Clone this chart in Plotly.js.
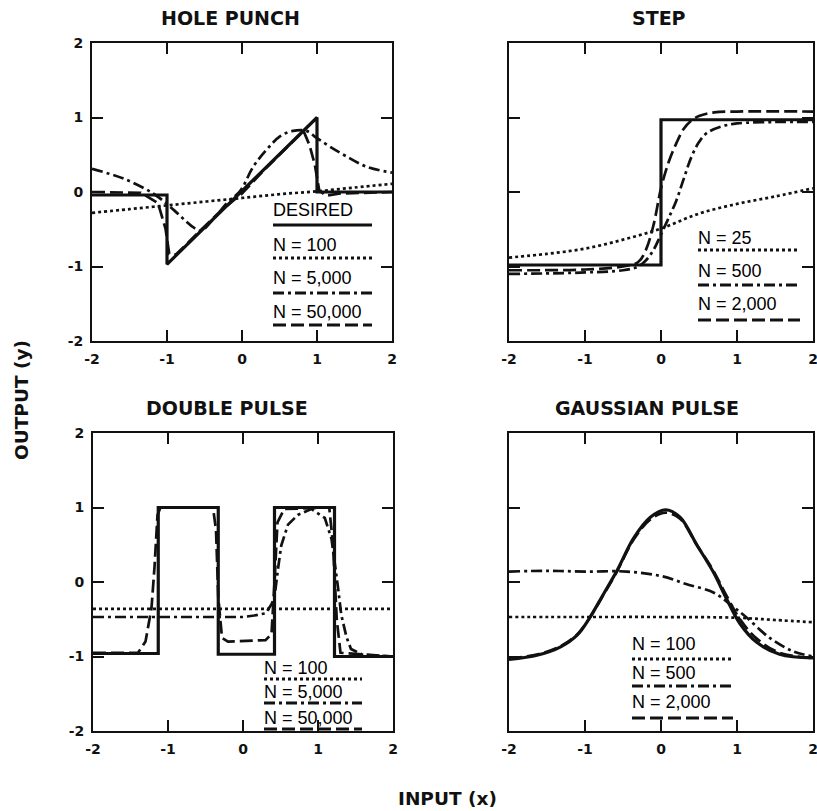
<!DOCTYPE html>
<html>
<head>
<meta charset="utf-8">
<script src="https://cdn.plot.ly/plotly-3.0.1.min.js"></script>
<style>html,body{margin:0;padding:0;background:#fff;}#chart{width:817px;height:811px;}</style>
</head>
<body>
<div id="chart"></div>
<script>
// ---------- tick labels ----------
const tickVals = [-2, -1, 0, 1, 2];
const tickText = ['-2', '-1', '0', '1', '2'];

// ---------- HOLE PUNCH ----------
const holeDesiredX = [-2, -1, -1, 1, 1, 2];
const holeDesiredY = [-0.04, -0.04, -0.97, 1.0, 0.0, 0.0];
const hole100X = [-2, -1.5, -1, -0.5, 0, 0.5, 1, 1.5, 2];
const hole100Y = [-0.28, -0.23, -0.18, -0.13, -0.08, -0.03, 0.01, 0.06, 0.11];
const hole5kX = [-2, -1.58, -1.17, -0.9, -0.68, -0.55, -0.38, -0.2, -0.02, 0.15, 0.33, 0.51, 0.68, 0.86, 0.99, 1.17, 1.39, 1.66, 2];
const hole5kY = [0.31, 0.18, -0.03, -0.25, -0.45, -0.52, -0.36, -0.15, 0.02, 0.34, 0.57, 0.75, 0.82, 0.82, 0.73, 0.61, 0.48, 0.34, 0.26];
const hole50kX = [-2, -1.35, -1.12, -1.02, -0.97, -0.88, -0.6, -0.3, 0, 0.3, 0.6, 0.82, 0.9, 0.97, 1.03, 1.12, 1.31, 2];
const hole50kY = [0, -0.01, -0.15, -0.49, -0.83, -0.84, -0.56, -0.27, -0.02, 0.3, 0.6, 0.82, 0.63, 0.37, 0.02, -0.05, -0.02, 0];

// ---------- STEP ----------
const stepDesiredX = [-2, 0, 0, 2];
const stepDesiredY = [-0.98, -0.98, 0.97, 0.97];
const step25X = [-2, -1.5, -1, -0.5, 0, 0.5, 1, 1.5, 2];
const step25Y = [-0.88, -0.83, -0.76, -0.64, -0.49, -0.29, -0.16, -0.06, 0.05];
const step500X = [-2, -1, -0.5, -0.3, -0.2, -0.1, 0, 0.1, 0.2, 0.3, 0.4, 0.5, 0.6, 0.8, 1, 1.5, 2];
const step500Y = [-1.1, -1.08, -1.05, -1.0, -0.92, -0.78, -0.57, -0.35, -0.12, 0.18, 0.47, 0.67, 0.79, 0.88, 0.92, 0.94, 0.94];
const step2kX = [-2, -1, -0.5, -0.3, -0.2, -0.1, 0, 0.1, 0.2, 0.3, 0.4, 0.5, 0.7, 1, 2];
const step2kY = [-1.05, -1.04, -1.0, -0.94, -0.78, -0.45, 0.05, 0.4, 0.65, 0.85, 0.96, 1.02, 1.07, 1.08, 1.08];

// ---------- DOUBLE PULSE ----------
const dpDesiredX = [-2, -1.13, -1.13, -0.33, -0.33, 0.42, 0.42, 1.22, 1.22, 2];
const dpDesiredY = [-0.96, -0.96, 1, 1, -0.97, -0.97, 1, 1, -1, -1];
const dp100X = [-2, -1, 0, 1, 2];
const dp100Y = [-0.36, -0.36, -0.36, -0.36, -0.36];
const dp5kX = [-2, -1, 0, 0.15, 0.3, 0.38, 0.42, 0.47, 0.51, 0.6, 0.73, 0.91, 1.09, 1.18, 1.22, 1.27, 1.31, 1.38, 1.44, 1.6, 2];
const dp5kY = [-0.47, -0.47, -0.47, -0.45, -0.42, -0.3, -0.2, 0.2, 0.49, 0.77, 0.9, 0.98, 0.86, 0.58, 0.3, -0.1, -0.44, -0.74, -0.9, -0.98, -1.0];
const dp50kX = [-2, -1.4, -1.3, -1.22, -1.18, -1.14, -1.1, -0.4, -0.36, -0.33, -0.28, -0.2, 0.3, 0.38, 0.42, 0.46, 0.55, 1.15, 1.2, 1.25, 1.3, 2];
const dp50kY = [-0.95, -0.95, -0.8, -0.35, 0.2, 0.9, 1.0, 1.0, 0.7, -0.2, -0.75, -0.8, -0.78, -0.7, 0.0, 0.8, 0.98, 1.0, 0.5, -0.5, -0.95, -1.0];

// ---------- GAUSSIAN PULSE ----------
const gaussDesiredX = [-2, -1.62, -1.32, -1.1, -0.95, -0.75, -0.58, -0.36, -0.14, 0.06, 0.25, 0.47, 0.69, 0.86, 1.04, 1.26, 1.56, 2];
const gaussDesiredY = [-1.04, -0.98, -0.87, -0.71, -0.5, -0.15, 0.15, 0.59, 0.87, 0.97, 0.87, 0.5, 0.13, -0.22, -0.56, -0.81, -0.97, -1.02];
const gauss100X = [-2, -1, 0, 1, 1.5, 2];
const gauss100Y = [-0.47, -0.47, -0.47, -0.48, -0.51, -0.54];
const gauss500X = [-2, -1.5, -1, -0.45, 0, 0.34, 0.69, 0.91, 1.13, 1.43, 1.74, 2];
const gauss500Y = [0.14, 0.15, 0.14, 0.14, 0.08, -0.03, -0.14, -0.3, -0.48, -0.75, -0.93, -1.0];
const gauss2kX = [-2, -1.62, -1.32, -1.1, -0.95, -0.75, -0.58, -0.36, -0.14, 0.06, 0.25, 0.47, 0.69, 0.86, 1.04, 1.26, 1.56, 2];
const gauss2kY = [-1.03, -0.97, -0.86, -0.7, -0.5, -0.16, 0.14, 0.57, 0.84, 0.93, 0.85, 0.5, 0.15, -0.18, -0.5, -0.76, -0.95, -1.02];

// ---------- legend labels ----------
const holeLabels = ['DESIRED', 'N = 100', 'N = 5,000', 'N = 50,000'];
const stepLabels = ['N = 25', 'N = 500', 'N = 2,000'];
const dpLabels = ['N = 100', 'N = 5,000', 'N = 50,000'];
const gaussLabels = ['N = 100', 'N = 500', 'N = 2,000'];

// ---------- styles ----------
const INK = '#111';
const STY = {
  desired: {color: INK, width: 3.2, dash: 'solid'},
  dot: {color: INK, width: 2.7, dash: '3px,3px'},
  dashdot: {color: INK, width: 2.7, dash: '11px,4px,3px,4px'},
  longdash: {color: INK, width: 2.7, dash: '13px,5px'}
};

const W = 817, H = 811;
const PX = v => v / W;
const PY = v => 1 - v / H;

function tr(x, y, sty, xa, ya, smooth) {
  return {
    x: x, y: y, xaxis: xa, yaxis: ya, type: 'scatter', mode: 'lines',
    line: Object.assign({}, STY[sty], {shape: smooth ? 'spline' : 'linear', smoothing: 1}),
    hoverinfo: 'skip', showlegend: false
  };
}

const traces = [
  tr(hole100X, hole100Y, 'dot', 'x', 'y', true),
  tr(hole5kX, hole5kY, 'dashdot', 'x', 'y', true),
  tr(hole50kX, hole50kY, 'longdash', 'x', 'y', false),
  tr(holeDesiredX, holeDesiredY, 'desired', 'x', 'y', false),

  tr(step25X, step25Y, 'dot', 'x2', 'y2', true),
  tr(step500X, step500Y, 'dashdot', 'x2', 'y2', true),
  tr(step2kX, step2kY, 'longdash', 'x2', 'y2', true),
  tr(stepDesiredX, stepDesiredY, 'desired', 'x2', 'y2', false),

  tr(dp100X, dp100Y, 'dot', 'x3', 'y3', false),
  tr(dp5kX, dp5kY, 'dashdot', 'x3', 'y3', false),
  tr(dp50kX, dp50kY, 'longdash', 'x3', 'y3', false),
  tr(dpDesiredX, dpDesiredY, 'desired', 'x3', 'y3', false),

  tr(gauss100X, gauss100Y, 'dot', 'x4', 'y4', true),
  tr(gauss500X, gauss500Y, 'dashdot', 'x4', 'y4', true),
  tr(gauss2kX, gauss2kY, 'longdash', 'x4', 'y4', true),
  tr(gaussDesiredX, gaussDesiredY, 'desired', 'x4', 'y4', true)
];

const tickFont = {family: 'DejaVu Sans', size: 14, color: INK, weight: 'bold'};
function axis(dom, anchor, showLabels) {
  return {
    domain: dom, anchor: anchor, range: [-2, 2], tickmode: 'array',
    tickvals: tickVals, ticktext: tickText, showticklabels: showLabels,
    ticks: 'inside', ticklen: 11, tickwidth: 2, tickcolor: INK,
    showline: true, linewidth: 2, linecolor: INK, mirror: 'ticks',
    showgrid: false, zeroline: false, fixedrange: true,
    tickfont: tickFont, ticklabelstandoff: 4, ticklabeloverflow: 'allow'
  };
}

// pixel frames [left, right, top, bottom]
const F1 = [92, 392, 43, 341], F2 = [509, 813, 43, 341];
const F3 = [93, 393, 433, 731], F4 = [509, 813, 433, 731];
const xd = f => [PX(f[0]), PX(f[1])];
const yd = f => [PY(f[3]), PY(f[2])];

const layout = {
  width: W, height: H, margin: {l: 0, r: 0, t: 0, b: 0},
  paper_bgcolor: '#fff', plot_bgcolor: 'rgba(0,0,0,0)', showlegend: false,
  xaxis: axis(xd(F1), 'y', true), yaxis: axis(yd(F1), 'x', true),
  xaxis2: axis(xd(F2), 'y2', true), yaxis2: axis(yd(F2), 'x2', false),
  xaxis3: axis(xd(F3), 'y3', true), yaxis3: axis(yd(F3), 'x3', true),
  xaxis4: axis(xd(F4), 'y4', true), yaxis4: axis(yd(F4), 'x4', false),
  annotations: [], shapes: []
};

const titleFont = {family: 'DejaVu Sans', size: 19, color: INK, weight: 'bold'};
[['HOLE PUNCH', 230, 18], ['STEP', 659, 18], ['DOUBLE PULSE', 227, 408], ['GAUSSIAN PULSE', 647, 408]].forEach(t => {
  layout.annotations.push({text: t[0], x: PX(t[1]), y: PY(t[2]), xref: 'paper', yref: 'paper',
    xanchor: 'center', yanchor: 'middle', showarrow: false, font: titleFont});
});
layout.annotations.push({text: 'OUTPUT (y)', x: PX(22), y: PY(400), xref: 'paper', yref: 'paper',
  textangle: -90, xanchor: 'center', yanchor: 'middle', showarrow: false, font: Object.assign({}, titleFont, {size: 18.5})});
layout.annotations.push({text: 'INPUT (x)', x: PX(447), y: PY(798), xref: 'paper', yref: 'paper',
  xanchor: 'center', yanchor: 'middle', showarrow: false, font: Object.assign({}, titleFont, {size: 18.5})});

// custom legends: text with a line sample underneath
const legFont = {family: 'Liberation Sans', size: 18, color: '#000'};
function legend(labels, styles, x0, x1, textY, lineY) {
  labels.forEach((lab, i) => {
    layout.annotations.push({text: lab, x: PX(x0 - 2), y: PY(textY[i]), xref: 'paper', yref: 'paper',
      xanchor: 'left', yanchor: 'middle', showarrow: false, font: legFont});
    const s = STY[styles[i]];
    layout.shapes.push({type: 'line', xref: 'paper', yref: 'paper',
      x0: PX(x0), x1: PX(x1), y0: PY(lineY[i]), y1: PY(lineY[i]),
      line: {color: s.color, width: 3, dash: s.dash}});
  });
}
legend(holeLabels, ['desired', 'dot', 'dashdot', 'longdash'], 273, 372, [210, 245, 278, 312], [225, 258, 293, 325]);
legend(stepLabels, ['dot', 'dashdot', 'longdash'], 698, 800, [238, 271, 304], [250, 285, 320]);
legend(dpLabels, ['dot', 'dashdot', 'longdash'], 264, 362, [668, 692, 718], [679, 703, 729]);
legend(gaussLabels, ['dot', 'dashdot', 'longdash'], 632, 733, [644, 673, 702], [659, 686, 718]);

Plotly.newPlot('chart', traces, layout, {staticPlot: true, displayModeBar: false});
</script>
</body>
</html>
